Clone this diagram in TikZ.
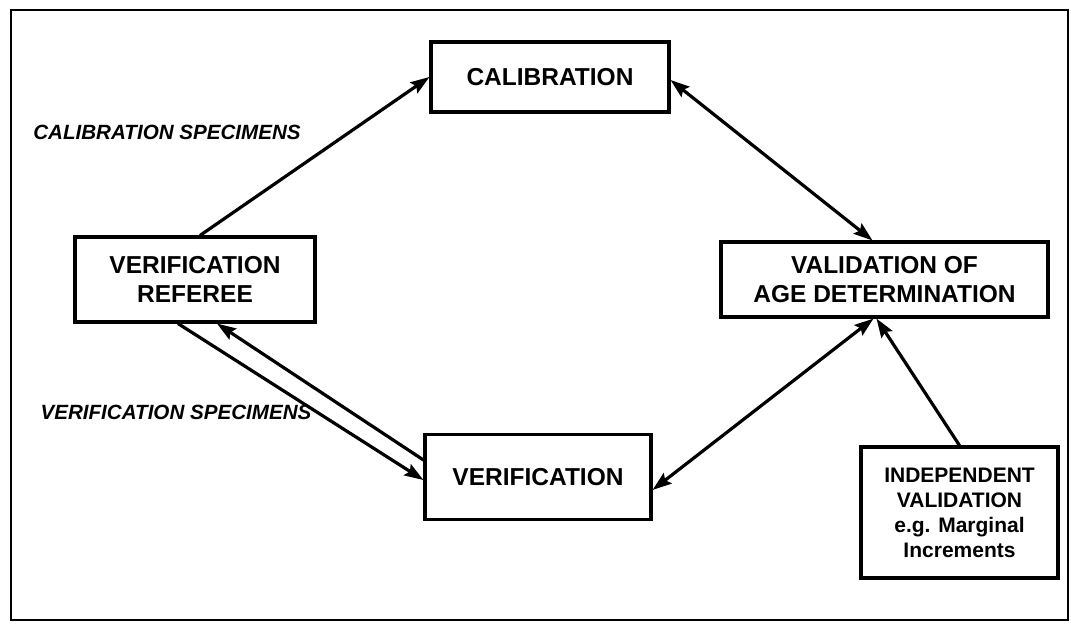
\documentclass[tikz,border=0pt]{standalone}
\usepackage{fontspec}
\setmainfont{Liberation Sans}
\usetikzlibrary{arrows.meta,calc}
\begin{document}
\begin{tikzpicture}[x=1pt,y=-1pt,
  box/.style={draw,line width=3.1pt,align=center,inner sep=0pt,font=\bfseries\fontsize{24.5}{28.5}\selectfont},
  smallbox/.style={box,font=\bfseries\fontsize{21}{25}\selectfont},
  lbl/.style={font=\bfseries\itshape\fontsize{20.6}{24}\selectfont},
  conn/.style={line width=3.2pt,-{Stealth[length=19pt,width=13pt,inset=3pt]}},
  biconn/.style={line width=3.2pt,{Stealth[length=19pt,width=13pt,inset=3pt]}-{Stealth[length=19pt,width=13pt,inset=3pt]}}
]
\useasboundingbox (0,0) rectangle (1071,629);
\draw[line width=2.2pt] (11,10) rectangle (1068,620);

\node[box,minimum width=238pt,minimum height=70pt] (cal) at (550,77) {CALIBRATION};
\node[box,minimum width=240pt,minimum height=85pt] (ref) at (195,279.5) {VERIFICATION\\REFEREE};
\node[box,minimum width=327pt,minimum height=75pt] (val) at (884.5,279.5) {VALIDATION OF\\AGE DETERMINATION};
\node[box,minimum width=226pt,minimum height=85pt] (ver) at (538,477) {VERIFICATION};
\node[smallbox,minimum width=197pt,minimum height=131pt] (ind) at (959.5,512.5) {INDEPENDENT\\VALIDATION\\e.g. Marginal\\Increments};

\node[lbl] (lcal) at (167,132) {CALIBRATION SPECIMENS};
\node[lbl] (lver) at (176,412) {VERIFICATION SPECIMENS};

\draw[conn] ([xshift=5pt]ref.north) -- (cal.west);
\draw[biconn] ([yshift=-3pt]cal.east) -- ([xshift=-12pt]val.north);
\draw[biconn] ([yshift=-13pt]ver.east) -- ([xshift=-11pt]val.south);
\draw[conn] (ind.north) -- ([xshift=-8pt]val.south);
\draw[conn] ([xshift=-17pt]ref.south) -- ([yshift=-3pt]ver.west);
\draw[conn] ([yshift=17pt]ver.west) -- ([xshift=22pt]ref.south);
\end{tikzpicture}
\end{document}
